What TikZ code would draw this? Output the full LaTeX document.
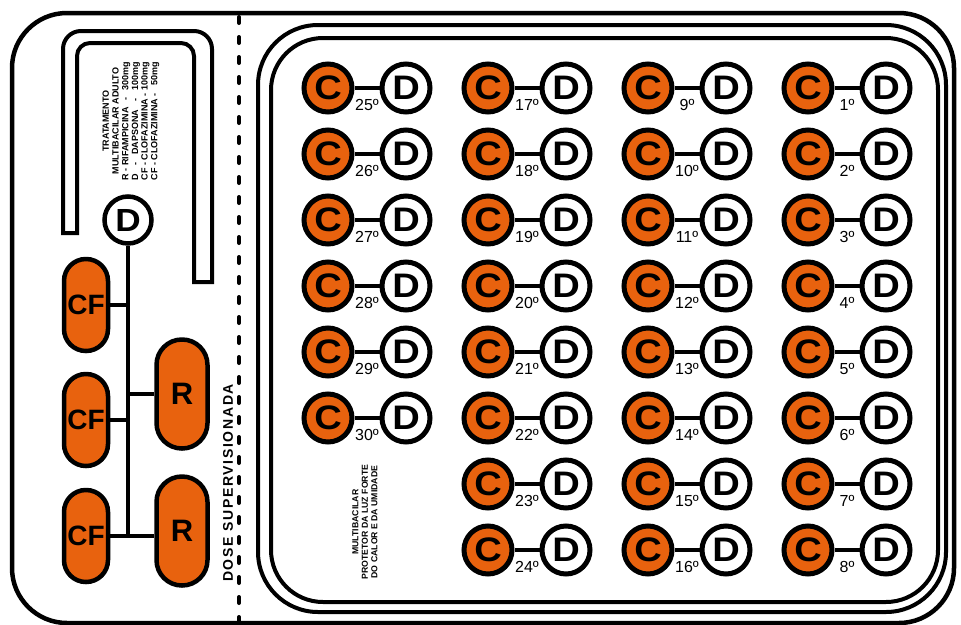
\documentclass[tikz,border=0pt]{standalone}
\usepackage{fontspec}
\setmainfont{Liberation Sans}
\definecolor{pill}{HTML}{E8620E}
\begin{document}
\begin{tikzpicture}[x=1pt,y=-1pt,
  framebox/.style={draw, line width=#1},
  conn/.style={draw, line width=4pt},
  cfpill/.style={draw, line width=4.5pt, fill=pill, rectangle, rounded corners=21.9pt,
    minimum width=44pt, minimum height=92pt, inner sep=0pt,
    font=\bfseries\fontsize{28}{28}\selectfont},
  rpill/.style={draw, line width=4.5pt, fill=pill, rectangle, rounded corners=25.4pt,
    minimum width=51pt, minimum height=109pt, inner sep=0pt,
    font=\bfseries\fontsize{31}{31}\selectfont},
  cball/.style={draw, circle, line width=5pt, fill=pill, minimum size=48pt, inner sep=0pt,
    font=\bfseries\fontsize{34}{34}\selectfont},
  dball/.style={draw, circle, line width=5pt, fill=white, minimum size=48pt, inner sep=0pt,
    font=\bfseries\fontsize{34}{34}\selectfont},
  daylabel/.style={inner sep=0pt, font=\fontsize{16}{16}\selectfont},
  vtext/.style={rotate=90, align=center, inner sep=0pt}
]
\useasboundingbox (0,0) rectangle (961,624);

% outer frame and blister frames
\draw[framebox=4.5pt, rounded corners=55pt] (12,13) rectangle (954,623);
\draw[framebox=4pt, rounded corners=60pt] (258,25) rectangle (946,612);
\draw[framebox=4pt, rounded corners=52pt] (271,38) rectangle (938,602);

% dashed separator
\draw[line width=4pt, line cap=round, dash pattern=on 6pt off 14pt] (239,17) -- (239,624);

% U-shaped tube
\draw[line width=4pt] (63,233) [rounded corners=18pt] -- (63,31) -- (212,31) [sharp corners] -- (212,282)
  -- (194,282) [rounded corners=13pt] -- (194,43) -- (77,43) [sharp corners] -- (77,233) -- cycle;

% legend text
\node[vtext, font=\bfseries\fontsize{9}{9.7}\selectfont] (legend) at (131,121) {%
  TRATAMENTO\\
  MULTIBACILAR ADULTO\\
  \makebox[118pt][s]{R - RIFAMPICINA \hfill - \hfill 300mg}\\
  \makebox[118pt][s]{D - DAPSONA - 100mg}\\
  \makebox[118pt][s]{CF - CLOFAZIMINA - 100mg}\\
  \makebox[118pt][s]{CF - CLOFAZIMINA - \hfill 50mg}};

% left pills
\node[dball, line width=4.5pt, minimum size=47pt, font=\bfseries\fontsize{32}{32}\selectfont] (dl) at (128,220) {\scalebox{1.1}[1]{D}};
\node[cfpill] (cf1) at (86,305) {CF};
\node[cfpill] (cf2) at (86,420) {CF};
\node[cfpill] (cf3) at (86,536) {CF};
\node[rpill] (r1) at (182,394) {R};
\node[rpill] (r2) at (182,531) {R};

\draw[conn] (dl.south) -- (dl.south |- cf3.east);
\draw[conn] (cf1.east) -- (cf1.east -| dl.south);
\draw[conn] (cf2.east) -- (cf2.east -| dl.south);
\draw[conn] (cf3.east) -- (cf3.east -| r2.west);
\draw[conn] (r1.west) -- (r1.west -| dl.south);

\node[vtext, font=\bfseries\fontsize{14}{14}\selectfont\addfontfeature{LetterSpace=12}] (dose) at (228,483) {DOSE SUPERVISIONADA};

\node[vtext, font=\bfseries\fontsize{8.7}{9.5}\selectfont] (prot) at (365,522) {%
  MULTIBACILAR\\ PROTETOR DA LUZ FORTE\\ DO CALOR E DA UMIDADE};

% grid of C-D pairs
\foreach \col/\base/\nrows in {0/25/6, 1/17/8, 2/9/8, 3/1/8}{
  \foreach \r in {1,...,\nrows}{
    \pgfmathsetmacro{\cx}{328+160*\col}
    \pgfmathsetmacro{\cy}{88+66*(\r-1)}
    \pgfmathtruncatemacro{\num}{\base+\r-1}
    \node[cball] (c\num) at (\cx,\cy) {\scalebox{1.12}[1]{C}};
    \node[dball] (d\num) at (\cx+78,\cy) {\scalebox{1.12}[1]{D}};
    \draw[conn] (c\num.east) -- (d\num.west);
    \node[daylabel] (l\num) at (\cx+39,\cy+17) {\num º};
  }
}
\end{tikzpicture}
\end{document}
